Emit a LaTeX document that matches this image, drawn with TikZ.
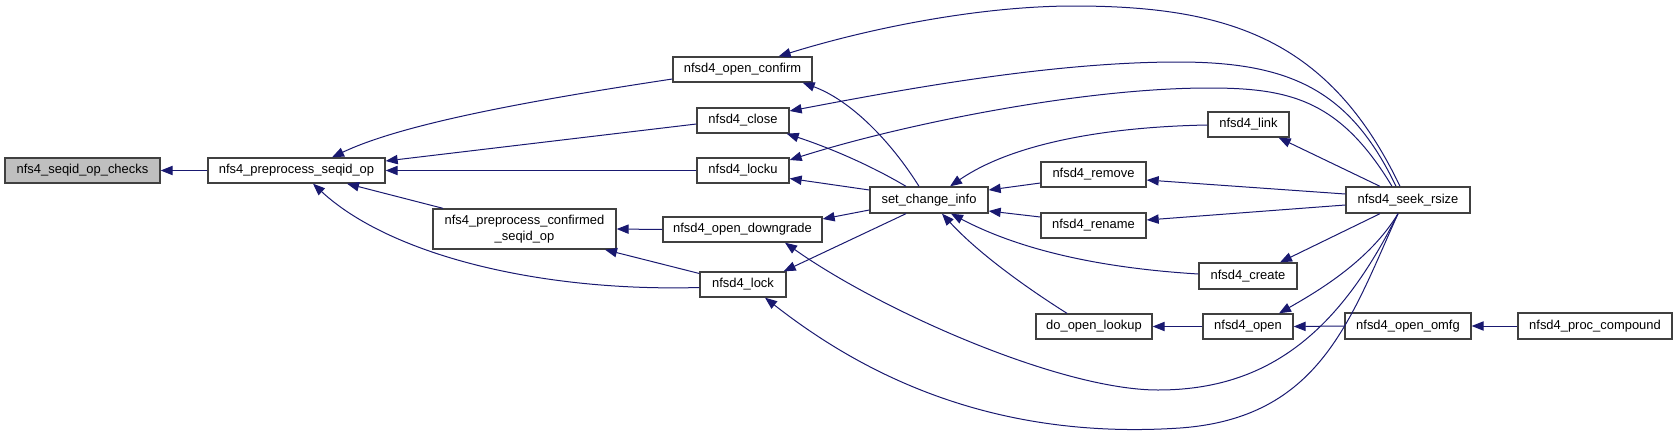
\documentclass[tikz,border=0pt]{standalone}
\usepackage{fontspec}
\setmainfont{Liberation Sans}
\usetikzlibrary{arrows.meta,calc}
\definecolor{edgecol}{RGB}{25,25,112}
\definecolor{boxline}{RGB}{64,64,64}
\definecolor{hlfill}{RGB}{191,191,191}
\tikzset{
  fn/.style={draw=boxline, line width=1pt, fill=white, minimum height=18.75pt, inner sep=0pt,
    font=\fontsize{9.7pt}{11.5pt}\selectfont, align=center},
  hl/.style={fn, fill=hlfill},
  call/.style={draw=edgecol, line width=0.75pt, -{Triangle[length=9pt,width=7pt]}, fill=none},
}
\begin{document}
\begin{tikzpicture}[x=0.75pt,y=-0.75pt]
\useasboundingbox (0,0) rectangle (1677,436);
% nodes
\node[hl, minimum width=116.25pt] (chk) at (82.5,170.5) {nfs4\_seqid\_op\_checks};
\node[fn, minimum width=132.75pt] (pre) at (296.5,170.5) {nfs4\_preprocess\_seqid\_op};
\node[fn, minimum width=104.25pt] (oc) at (742.5,69.5) {nfsd4\_open\_confirm};
\node[fn, minimum width=69pt] (cl) at (743,120.5) {nfsd4\_close};
\node[fn, minimum width=69pt] (lu) at (743,170.5) {nfsd4\_locku};
\node[fn, minimum width=137.25pt, minimum height=30pt] (cf) at (524.5,229) {nfs4\_preprocess\_confirmed\\\_seqid\_op};
\node[fn, minimum width=119.25pt] (dg) at (742.5,229.5) {nfsd4\_open\_downgrade};
\node[fn, minimum width=64.5pt] (lk) at (743,284.5) {nfsd4\_lock};
\node[fn, minimum width=88.5pt, minimum height=19.5pt] (sci) at (929,200) {set\_change\_info};
\node[fn, minimum width=78.75pt] (rm) at (1093.5,174.5) {nfsd4\_remove};
\node[fn, minimum width=78.75pt] (rn) at (1093.5,225.5) {nfsd4\_rename};
\node[fn, minimum width=60.75pt] (lnk) at (1248.5,124.5) {nfsd4\_link};
\node[fn, minimum width=73.5pt, minimum height=19.5pt] (cr) at (1248,276) {nfsd4\_create};
\node[fn, minimum width=87pt] (dol) at (1094,326.5) {do\_open\_lookup};
\node[fn, minimum width=67.5pt] (op) at (1248,326.5) {nfsd4\_open};
\node[fn, minimum width=93pt, minimum height=19.5pt] (sk) at (1408,200) {nfsd4\_seek\_rsize};
\node[fn, minimum width=94.5pt, minimum height=19.5pt] (om) at (1408,326) {nfsd4\_open\_omfg};
\node[fn, minimum width=115.5pt, minimum height=19.5pt] (pc) at (1595,326) {nfsd4\_proc\_compound};
% edges
\draw[call] (pre.west) -- (chk.east);
\draw[call] ($(oc.west)+(0,9.5)$) .. controls (520,102) and (400,125) .. ($(pre.north)+(35.5,0)$);
\draw[call] ($(cl.west)+(0,3.5)$) -- ($(pre.east)+(0,-9.5)$);
\draw[call] (lu.west) -- (pre.east);
\draw[call] ($(cf.north)+(-81.5,0)$) -- ($(pre.south)+(50.5,0)$);
\draw[call] ($(lk.west)+(0,3)$) .. controls (540,292) and (390,255) .. ($(pre.south)+(16.5,0)$);
\draw[call] (dg.west) -- (cf.east);
\draw[call] ($(lk.west)+(0,-11)$) -- ($(cf.south)+(80.5,0)$);
\draw[call] ($(sci.north)+(-10,0)$) .. controls (890,140) and (850,100) .. ($(oc.south east)+(-10,0)$);
\draw[call] ($(sci.north)+(-23,0)$) .. controls (870,165) and (830,148) .. ($(cl.south east)+(-3,0)$);
\draw[call] ($(sci.west)+(0,-10)$) -- ($(lu.east)+(0,8)$);
\draw[call] ($(sci.west)+(0,10)$) -- ($(dg.east)+(0,-10.5)$);
\draw[call] ($(sci.south)+(-23,0)$) -- ($(lk.north east)+(-3,0)$);
\draw[call] ($(sk.north)+(-8,0)$) .. controls (1330,40) and (1230,6) .. (1074,6) .. controls (980,6) and (870,28) .. ($(oc.north east)+(-34,0)$);
\draw[call] ($(sk.north)+(-12,0)$) .. controls (1350,90) and (1290,62) .. (1178,62) .. controls (1050,62) and (900,90) .. ($(cl.east)+(0,-9.5)$);
\draw[call] ($(sk.north)+(-16,0)$) .. controls (1340,100) and (1290,88) .. (1209,88) .. controls (1080,88) and (900,125) .. ($(lu.east)+(0,-10.5)$);
\draw[call] ($(sk.south)+(-10,0)$) .. controls (1340,330) and (1270,390) .. (1158,390) .. controls (1060,390) and (880,310) .. ($(dg.south)+(42.5,0)$);
\draw[call] ($(sk.south)+(-10,0)$) .. controls (1350,320) and (1320,418) .. (1180,428) .. controls (1000,440) and (870,380) .. ($(lk.south)+(22,0)$);
\draw[call] ($(lnk.west)+(0,0.5)$) .. controls (1100,127) and (1010,145) .. ($(sci.north)+(21,0)$);
\draw[call] ($(rm.west)+(0,8.5)$) -- ($(sci.east)+(0,-10)$);
\draw[call] ($(rn.west)+(0,-8.5)$) -- ($(sci.east)+(0,11)$);
\draw[call] ($(cr.west)+(0,-2)$) .. controls (1100,268) and (1020,250) .. ($(sci.south)+(22,0)$);
\draw[call] ($(dol.north)+(-27,0)$) .. controls (1030,290) and (980,255) .. ($(sci.south)+(13,0)$);
\draw[call] ($(sk.north)+(-28,0)$) -- ($(lnk.south east)+(-11,0)$);
\draw[call] ($(sk.west)+(0,-6)$) -- ($(rm.east)+(0,5.5)$);
\draw[call] ($(sk.west)+(0,5)$) -- ($(rn.east)+(0,-5.5)$);
\draw[call] ($(sk.south)+(-28,0)$) -- ($(cr.north)+(32,0)$);
\draw[call] ($(sk.south)+(-10,0)$) .. controls (1370,260) and (1320,290) .. ($(op.north)+(31,0)$);
\draw[call] (op.west) -- (dol.east);
\draw[call] (om.west) -- (op.east);
\draw[call] (pc.west) -- (om.east);
\end{tikzpicture}
\end{document}
